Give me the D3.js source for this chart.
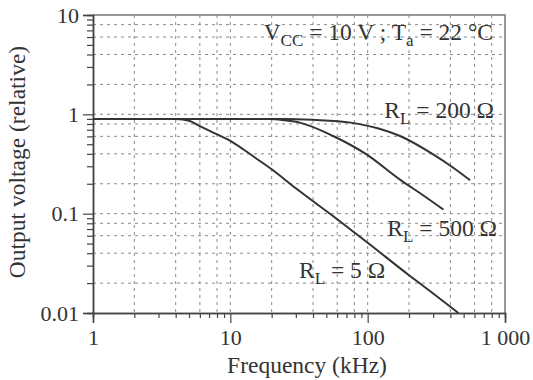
<!DOCTYPE html>
<html>
<head>
<meta charset="utf-8">
<script src="https://cdn.jsdelivr.net/npm/d3@7"></script>
<style>
body { margin: 0; background: #fff; }
text { font-family: "Liberation Serif", "Times New Roman", serif; fill: #333; }
</style>
</head>
<body>
<svg id="chart" width="533" height="380"></svg>
<script>
// curves: frequency (kHz) -> relative output voltage
var freq5 = [1, 2, 3, 4, 5, 6, 7.5, 10, 12.4, 15, 20, 30, 60, 100, 200, 300, 458]
var volt5 = [0.9, 0.9, 0.9, 0.895, 0.86, 0.76, 0.655, 0.54, 0.445, 0.37, 0.28, 0.18, 0.088, 0.051, 0.024, 0.0157, 0.01]
var freq500 = [1, 10, 19.4, 25, 32, 56, 98, 172, 250, 356]
var volt500 = [0.9, 0.9, 0.9, 0.87, 0.825, 0.605, 0.395, 0.22, 0.155, 0.11]
var freq200 = [1, 10, 25, 40, 75, 120, 172, 300, 420, 557]
var volt200 = [0.9, 0.9, 0.9, 0.88, 0.825, 0.72, 0.605, 0.395, 0.29, 0.217]

var xTicks = [1, 10, 100, 1000]
var xTickLabels = ['1', '10', '100', '1 000']
var yTicks = [0.01, 0.1, 1, 10]
var yTickLabels = ['0.01', '0.1', '1', '10']
var gridX = [2, 4, 6, 8, 10, 20, 40, 60, 80, 100, 200, 400, 600, 800]
var gridY = [0.02, 0.04, 0.06, 0.08, 0.1, 0.2, 0.4, 0.6, 0.8, 1, 2, 4, 6, 8]

var svg = d3.select('#chart')
var plotLeft = 93, plotRight = 505, plotTop = 15, plotBottom = 313

var xScale = d3.scaleLog().domain([1, 1000]).range([plotLeft, plotRight])
var yScale = d3.scaleLog().domain([0.01, 10]).range([plotBottom, plotTop])

// minor tick values: 2..9 in every decade
var minorX = [], minorY = []
for (var k = 0; k < 3; k++) {
    for (var m = 2; m <= 9; m++) {
        minorX.push(m * Math.pow(10, k))
        minorY.push(m * Math.pow(10, k - 2))
    }
}

// dashed grid
svg.append('g').selectAll('line')
    .data(gridX)
    .join('line')
    .attr('x1', d => xScale(d)).attr('x2', d => xScale(d))
    .attr('y1', plotTop).attr('y2', plotBottom)
    .attr('stroke', '#8a8a8a').attr('stroke-width', 1)
    .attr('stroke-dasharray', '3,4')
svg.append('g').selectAll('line')
    .data(gridY)
    .join('line')
    .attr('x1', plotLeft).attr('x2', plotRight)
    .attr('y1', d => yScale(d)).attr('y2', d => yScale(d))
    .attr('stroke', '#8a8a8a').attr('stroke-width', 1)
    .attr('stroke-dasharray', '3,4')

// frame on top and right
svg.append('path')
    .attr('d', `M${plotLeft},${plotTop} H${plotRight} V${plotBottom}`)
    .attr('fill', 'none').attr('stroke', '#777').attr('stroke-width', 1.5)

// axes
var xMinorAxis = d3.axisBottom(xScale).tickValues(minorX).tickSize(5).tickFormat('')
var xMajorAxis = d3.axisBottom(xScale).tickValues(xTicks).tickSize(10).tickPadding(6)
    .tickFormat((d, i) => xTickLabels[i])
var yMinorAxis = d3.axisLeft(yScale).tickValues(minorY).tickSize(6).tickFormat('')
var yMajorAxis = d3.axisLeft(yScale).tickValues(yTicks).tickSize(10).tickPadding(4)
    .tickFormat((d, i) => yTickLabels[i])

function styleAxis(g) {
    g.select('.domain').attr('stroke', '#444').attr('stroke-width', 1.5)
    g.selectAll('.tick line').attr('stroke', '#444').attr('stroke-width', 1.2)
    g.selectAll('.tick text').attr('fill', '#333')
        .style('font-family', '"Liberation Serif", serif').style('font-size', '22px')
}
svg.append('g').attr('transform', `translate(0,${plotBottom})`).call(xMinorAxis).call(styleAxis)
svg.append('g').attr('transform', `translate(0,${plotBottom})`).call(xMajorAxis).call(styleAxis)
svg.append('g').attr('transform', `translate(${plotLeft},0)`).call(yMinorAxis).call(styleAxis)
svg.append('g').attr('transform', `translate(${plotLeft},0)`).call(yMajorAxis).call(styleAxis)

// curves
var line = d3.line()
    .x(d => xScale(d[0]))
    .y(d => yScale(d[1]))
    .curve(d3.curveMonotoneX)
var curves = [
    d3.zip(freq5, volt5),
    d3.zip(freq500, volt500),
    d3.zip(freq200, volt200)
]
svg.selectAll('.curve')
    .data(curves)
    .join('path')
    .attr('class', 'curve')
    .attr('d', line)
    .attr('fill', 'none')
    .attr('stroke', '#333')
    .attr('stroke-width', 2)

// labels with subscripts
function subLabel(f, v, main, sub, rest) {
    var t = svg.append('text')
        .attr('x', xScale(f)).attr('y', yScale(v))
        .attr('text-anchor', 'end')
        .style('font-size', '23.5px')
    t.append('tspan').text(main)
    t.append('tspan').attr('dy', 6).style('font-size', '17px').text(sub)
    t.append('tspan').attr('dy', -6).text(rest)
    return t
}
var vt = svg.append('text')
    .attr('x', xScale(818)).attr('y', yScale(5.6))
    .attr('text-anchor', 'end')
    .style('font-size', '23.5px')
vt.append('tspan').text('V')
vt.append('tspan').attr('dy', 6).style('font-size', '17px').text('CC')
vt.append('tspan').attr('dy', -6).text(' = 10 V ; T')
vt.append('tspan').attr('dy', 6).style('font-size', '17px').text('a')
vt.append('tspan').attr('dy', -6).text(' = 22 °C')

subLabel(832, 0.918, 'R', 'L', ' = 200 Ω')
subLabel(875, 0.0596, 'R', 'L', ' = 500 Ω')
subLabel(134, 0.0225, 'R', 'L', ' = 5 Ω')

// axis titles
svg.append('text')
    .attr('x', 307).attr('y', 373)
    .attr('text-anchor', 'middle')
    .style('font-size', '23.5px')
    .text('Frequency (kHz)')
svg.append('text')
    .attr('transform', 'translate(25,162) rotate(-90)')
    .attr('text-anchor', 'middle')
    .style('font-size', '23.5px')
    .text('Output voltage (relative)')
</script>
</body>
</html>
